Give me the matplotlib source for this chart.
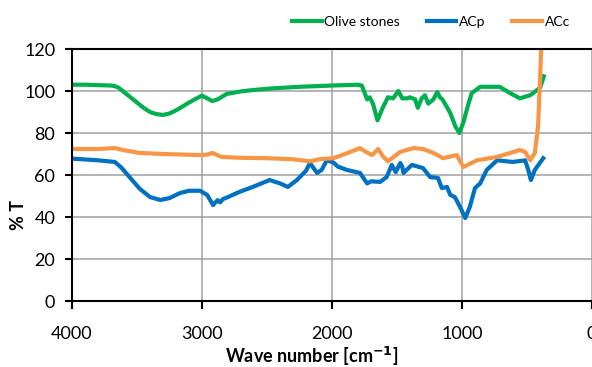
import numpy as np
import matplotlib
matplotlib.use("Agg")
import matplotlib.pyplot as plt

plt.rcParams["font.family"] = ["Lato", "DejaVu Sans"]

# wave numbers (cm-1) and %T
wn_olive = [4000, 3900, 3800, 3700, 3670, 3640, 3600, 3550, 3500, 3450, 3400, 3350,
            3300, 3250, 3200, 3150, 3100, 3050, 3000, 2960, 2920, 2880, 2810, 2700,
            2600, 2450, 2250, 2000, 1800, 1770, 1730, 1710, 1685, 1650, 1610, 1570,
            1530, 1490, 1460, 1420, 1400, 1360, 1340, 1310, 1285, 1260, 1220, 1190,
            1170, 1150, 1090, 1050, 1020, 990, 950, 925, 860, 710, 630, 555, 475,
            400, 370]
olive = [103, 103, 102.8, 102.6, 102.3, 101.5, 99.5, 97, 94.5, 92, 90, 89,
         88.6, 89.3, 90.8, 92.6, 94.5, 96.2, 97.8, 96.5, 95.2, 96, 98.6, 99.8,
         100.5, 101.3, 102, 102.6, 103, 102.5, 96, 97, 94, 86, 92, 97,
         96.5, 100, 96.5, 96.5, 97, 96, 92, 96.5, 98, 94, 96, 99.5,
         97, 96, 89.5, 83, 80, 85, 94, 99, 102, 102, 99, 96.5, 98,
         101.5, 107]

wn_acp = [4000, 3800, 3670, 3620, 3550, 3480, 3400, 3320, 3250, 3170, 3100, 3015,
          2960, 2915, 2880, 2860, 2840, 2800, 2710, 2610, 2480, 2400, 2340, 2270,
          2200, 2170, 2115, 2080, 2040, 1990, 1955, 1885, 1785, 1730, 1700, 1630,
          1580, 1540, 1510, 1475, 1460, 1450, 1385, 1300, 1245, 1185, 1155, 1115,
          1090, 1055, 1015, 975, 940, 900, 860, 810, 730, 610, 515, 490, 470, 440,
          375]
acp = [67.8, 67, 66.2, 63.5, 58.5, 53.5, 49.5, 48.1, 49, 51.4, 52.5, 52.5,
       50.5, 45.7, 48, 47, 48.5, 49.5, 52, 54.3, 57.6, 56, 54.3, 57.6,
       62, 65.7, 61, 62.4, 67, 66, 64, 62.4, 61, 56, 57, 56.7,
       59, 64.8, 61.4, 65.7, 64, 61, 64.8, 63.3, 59, 58.6, 53.8, 54.3,
       50.5, 49.5, 44.8, 39.5, 44.8, 53.8, 56, 62.4, 67, 66.2, 67, 62.4, 57.6, 62.4,
       68]

wn_acc = [4000, 3800, 3670, 3600, 3480, 3300, 3015, 2960, 2920, 2850, 2710, 2500,
          2300, 2170, 2100, 1990, 1900, 1785, 1740, 1690, 1645, 1610, 1570, 1475,
          1375, 1300, 1220, 1145, 1040, 990, 885, 730, 555, 515, 475, 440, 415,
          400, 385]
acc = [72.4, 72.4, 72.8, 71.8, 70.5, 70, 69.5, 69.7, 70.5, 68.6, 68.2, 68,
       67.5, 66.5, 67.5, 68, 70, 72.8, 71, 69.5, 72.4, 69, 66.5, 71,
       72.8, 72.4, 70.5, 68, 69.5, 63.8, 67, 68.6, 71.9, 71, 67, 70.5, 83,
       105, 130]

fig = plt.figure(figsize=(5.92, 3.67), dpi=100)
ax = fig.add_axes([72 / 592, 1 - 301 / 367, 1 - 72 / 592, (301 - 49) / 367])

ax.plot(wn_olive, olive, color="#00b050", lw=3, label="Olive stones")
ax.plot(wn_acp, acp, color="#0070c0", lw=3, label="ACp")
ax.plot(wn_acc, acc, color="#f79646", lw=3, label="ACc")

ax.set_xlim(4000, 0)
ax.set_ylim(0, 120)
ax.set_xticks([4000, 3000, 2000, 1000, 0])
ax.set_yticks(range(0, 121, 20))
ax.grid(True, color="#a0a0a0", lw=1.1)
ax.set_axisbelow(True)
for s in ["left", "bottom", "top"]:
    ax.spines[s].set_linewidth(1.5)
    ax.spines[s].set_color("black")
ax.spines["right"].set_visible(False)
ax.tick_params(axis="y", length=5, width=1.5, pad=7, labelsize=13)
ax.tick_params(axis="x", length=6, width=1.5, pad=12, labelsize=13)

fig.text(18 / 592, 1 - 215 / 367, "% T", rotation=90, ha="center", va="center",
         fontsize=13, fontweight="bold")
fig.text(312 / 592, 1 - 356 / 367, "Wave number [cm$^{\\mathbf{-1}}$]", ha="center",
         va="center", fontsize=13, fontweight="bold")

fig.legend(loc="center right", bbox_to_anchor=(570 / 592, 1 - 22 / 367), ncol=3,
           frameon=False, fontsize=10, handlelength=2.15, handletextpad=0.2,
           columnspacing=1.9, borderpad=0, borderaxespad=0)

fig.savefig("out.png", dpi=100)
